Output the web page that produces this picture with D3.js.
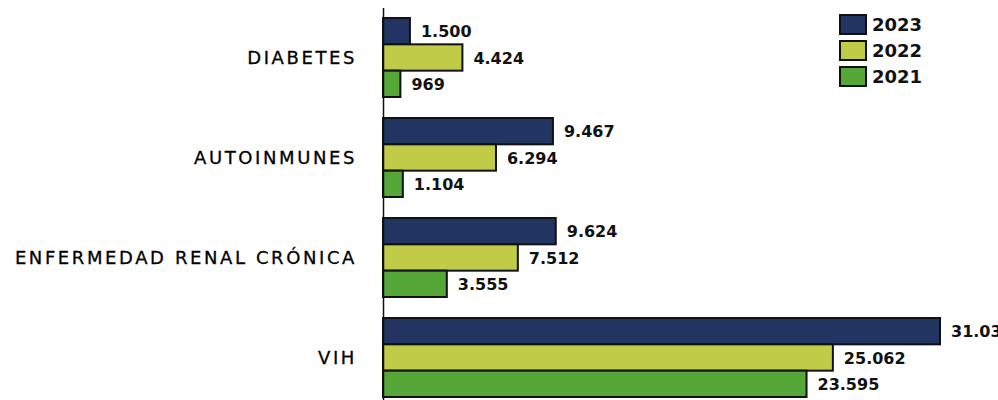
<!DOCTYPE html>
<html>
<head>
<meta charset="utf-8">
<script src="https://cdn.jsdelivr.net/npm/d3@7"></script>
<style>
  body { margin: 0; background: #fff; overflow: hidden; }
  svg { display: block; }
</style>
</head>
<body>
<svg width="998" height="400"></svg>
<script>
var categories = ["DIABETES", "AUTOINMUNES", "ENFERMEDAD RENAL CRÓNICA", "VIH"];
var years = ["2023", "2022", "2021"];
var values2023 = [1500, 9467, 9624, 31031];
var values2022 = [4424, 6294, 7512, 25062];
var values2021 = [969, 1104, 3555, 23595];
var colors = ["#223462", "#c0cc48", "#55a837"];

var series = [values2023, values2022, values2021];

var svg = d3.select("svg");

var x = d3.scaleLinear()
    .domain([0, 35000])
    .range([383, 383 + 35000 * 0.01795]);

var y = d3.scaleBand()
    .domain(categories)
    .range([7.5, 407.5])
    .paddingInner(0.21)
    .paddingOuter(0.105);

var ySub = d3.scaleBand()
    .domain(years)
    .range([0, y.bandwidth()]);

var fmt = d3.formatLocale({decimal: ",", thousands: ".", grouping: [3], currency: ["", ""]}).format(",d");

// bars
var groups = svg.selectAll("g.cat")
  .data(categories)
  .enter().append("g")
  .attr("class", "cat")
  .attr("transform", function(d) { return "translate(0," + y(d) + ")"; });

groups.each(function(cat, i) {
  var g = d3.select(this);
  var rows = years.map(function(yr, k) { return {year: yr, value: series[k][i], color: colors[k]}; });

  g.selectAll("rect")
    .data(rows)
    .enter().append("rect")
    .attr("x", x(0))
    .attr("y", function(d) { return ySub(d.year); })
    .attr("width", function(d) { return x(d.value) - x(0); })
    .attr("height", ySub.bandwidth())
    .attr("fill", function(d) { return d.color; })
    .attr("stroke", "#111")
    .attr("stroke-width", 2);

  g.selectAll("text.val")
    .data(rows)
    .enter().append("text")
    .attr("class", "val")
    .attr("x", function(d) { return x(d.value) + 11; })
    .attr("y", function(d) { return ySub(d.year) + ySub.bandwidth() / 2 + 6; })
    .attr("font-family", "DejaVu Sans")
    .attr("font-weight", "bold")
    .attr("font-size", 16)
    .attr("fill", "#111")
    .text(function(d) { return fmt(d.value); });
});

// axis
var axis = svg.append("g")
  .attr("transform", "translate(" + x(0) + ",0)")
  .call(d3.axisLeft(y).tickSize(0).tickSizeOuter(0).tickPadding(26));

axis.select(".domain")
  .attr("stroke", "#111")
  .attr("stroke-width", 1.5);

axis.selectAll("text")
  .attr("font-family", "DejaVu Sans")
  .attr("font-size", 18)
  .attr("letter-spacing", 2.6)
  .attr("fill", "#000")
  .attr("stroke", "#000")
  .attr("stroke-width", 0.3)
  .attr("dy", "0.36em");

// legend
var legend = svg.append("g")
  .attr("transform", "translate(840,15)");

var items = legend.selectAll("g")
  .data(years)
  .enter().append("g")
  .attr("transform", function(d, i) { return "translate(0," + (i * 26) + ")"; });

items.append("rect")
  .attr("width", 26)
  .attr("height", 19)
  .attr("fill", function(d, i) { return colors[i]; })
  .attr("stroke", "#111")
  .attr("stroke-width", 2);

items.append("text")
  .attr("x", 32)
  .attr("y", 16)
  .attr("font-family", "DejaVu Sans")
  .attr("font-weight", "bold")
  .attr("font-size", 18)
  .attr("fill", "#111")
  .text(function(d) { return d; });
</script>
</body>
</html>
